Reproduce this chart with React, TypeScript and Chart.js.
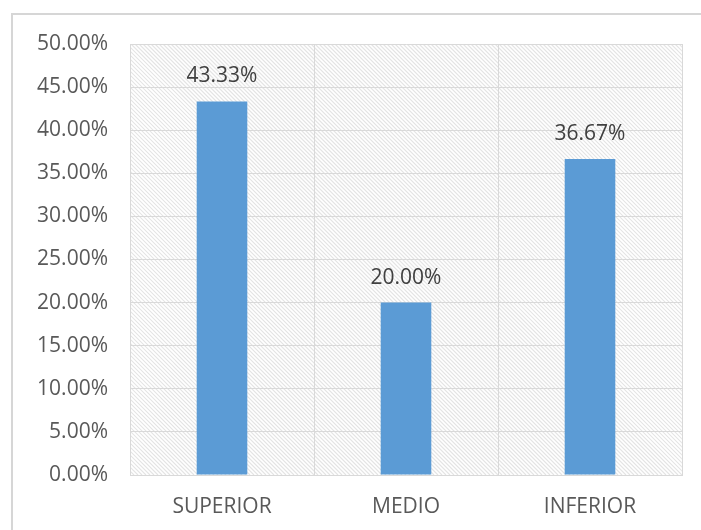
import React, { useEffect, useRef } from "react";
import { Chart, registerables } from "chart.js";

Chart.register(...registerables);

const categories = ["SUPERIOR", "MEDIO", "INFERIOR"];
const percentValues = [43.33, 20.0, 36.67];
const yTickStep = 5;
const yMax = 50;

const FONT = "'Open Sans', sans-serif";

const framePlugin = {
  id: "framePlugin",
  beforeDraw(chart: any) {
    const { ctx, width, height, chartArea } = chart;
    ctx.save();
    ctx.fillStyle = "#ffffff";
    ctx.fillRect(0, 0, width, height);
    ctx.strokeStyle = "#d6d6d6";
    ctx.lineWidth = 2;
    ctx.beginPath();
    ctx.moveTo(12, height + 2);
    ctx.lineTo(12, 14);
    ctx.lineTo(width + 2, 14);
    ctx.stroke();
    const { left, top, right, bottom } = chartArea;
    ctx.beginPath();
    ctx.rect(left, top, right - left, bottom - top);
    ctx.clip();
    ctx.strokeStyle = "#e4e4e4";
    ctx.lineWidth = 1.2;
    const h = bottom - top;
    for (let x = left - h; x < right + 4; x += 4) {
      ctx.beginPath();
      ctx.moveTo(x, top);
      ctx.lineTo(x + h, bottom);
      ctx.stroke();
    }
    ctx.restore();
  },
};

const labelPlugin = {
  id: "labelPlugin",
  afterDatasetsDraw(chart: any) {
    const { ctx } = chart;
    const meta = chart.getDatasetMeta(0);
    ctx.save();
    ctx.fillStyle = "#404040";
    ctx.font = "21px " + FONT;
    ctx.textAlign = "center";
    ctx.textBaseline = "middle";
    meta.data.forEach((bar: any, i: number) => {
      const v = chart.data.datasets[0].data[i];
      ctx.fillText(v.toFixed(2) + "%", bar.x, bar.y - 25);
    });
    ctx.restore();
  },
};

export default function App() {
  const ref = useRef<HTMLCanvasElement>(null);
  useEffect(() => {
    if (!ref.current) return;
    const chart = new Chart(ref.current, {
      type: "bar",
      data: {
        labels: categories,
        datasets: [
          {
            data: percentValues,
            backgroundColor: "#5B9BD5",
            borderWidth: 0,
            categoryPercentage: 1,
            barPercentage: 0.275,
          },
        ],
      },
      options: {
        responsive: false,
        animation: false,
        layout: { padding: { top: 44, right: 19, bottom: 0, left: 0 } },
        plugins: { legend: { display: false }, tooltip: { enabled: false } },
        scales: {
          x: {
            grid: { color: "#d9d9d9", drawTicks: false, offset: true },
            border: { color: "#d9d9d9" },
            ticks: {
              color: "#595959",
              font: { family: FONT, size: 21 },
              padding: 19,
            },
            afterFit: (s: any) => {
              s.height = 55;
            },
          },
          y: {
            min: 0,
            max: yMax,
            grid: { color: "#d9d9d9", drawTicks: false },
            border: { color: "#d9d9d9" },
            ticks: {
              stepSize: yTickStep,
              color: "#595959",
              font: { family: FONT, size: 21 },
              padding: 22,
              callback: (v: any) => Number(v).toFixed(2) + "%",
            },
            afterFit: (s: any) => {
              s.width = 130;
            },
          },
        },
      },
      plugins: [framePlugin, labelPlugin],
    });
    return () => chart.destroy();
  }, []);
  return (
    <div style={{ position: "fixed", left: 0, top: 0, width: 701, height: 530 }}>
      <canvas ref={ref} width={701} height={530} style={{ display: "block" }} />
    </div>
  );
}
